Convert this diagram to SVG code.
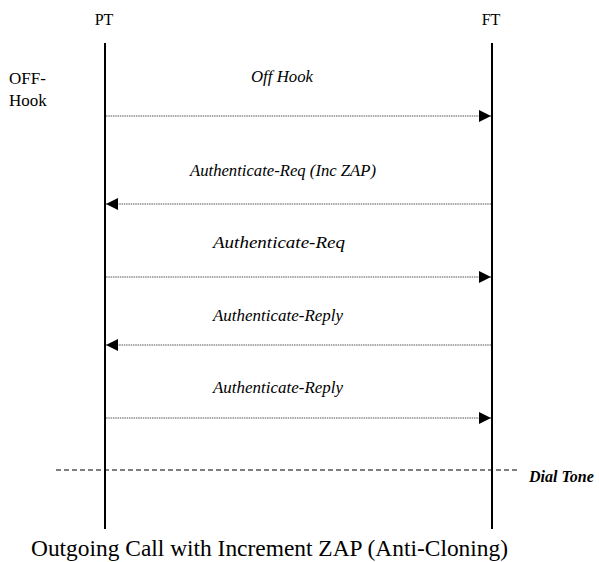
<svg xmlns="http://www.w3.org/2000/svg" width="599" height="562" viewBox="0 0 599 562">
<style>
.lbl{font-size:17px;font-style:italic}
.msg{stroke:#555;stroke-width:1;stroke-dasharray:1.5 0.8;fill:none}
.life{stroke:#000;stroke-width:2}
</style>
<defs>
<marker id="ah" viewBox="0 0 12 12" markerWidth="12" markerHeight="12" refX="12" refY="6" orient="auto" markerUnits="userSpaceOnUse">
<path d="M0,0 L12,6 L0,12 Z" fill="#000"/>
</marker>
</defs>
<rect width="599" height="562" fill="#fff"/>
<g id="PT">
<text x="104" y="25" font-size="16" text-anchor="middle" font-family="Liberation Serif">PT</text>
<line class="life" x1="105" y1="43" x2="105" y2="529"/>
</g>
<g id="FT">
<text x="491" y="25" font-size="16" text-anchor="middle" font-family="Liberation Serif">FT</text>
<line class="life" x1="492" y1="43" x2="492" y2="529"/>
</g>
<g id="offhook-note">
<text x="9" y="84" font-size="17" font-family="Liberation Serif">OFF-</text>
<text x="9" y="106" font-size="17" font-family="Liberation Serif">Hook</text>
</g>
<g id="connectors">
<line class="msg" x1="106" y1="116" x2="491" y2="116" marker-end="url(#ah)"/>
<line class="msg" x1="491" y1="204" x2="106" y2="204" marker-end="url(#ah)"/>
<line class="msg" x1="106" y1="277" x2="491" y2="277" marker-end="url(#ah)"/>
<line class="msg" x1="491" y1="345" x2="106" y2="345" marker-end="url(#ah)"/>
<line class="msg" x1="106" y1="418" x2="491" y2="418" marker-end="url(#ah)"/>
<line x1="56" y1="470" x2="517" y2="470" stroke="#000" stroke-width="1" stroke-dasharray="5 3"/>
</g>
<g id="labels">
<text class="lbl" x="251" y="82" textLength="62" lengthAdjust="spacingAndGlyphs" font-family="Liberation Serif">Off Hook</text>
<text class="lbl" x="190" y="176" textLength="186" lengthAdjust="spacingAndGlyphs" font-family="Liberation Serif">Authenticate-Req (Inc ZAP)</text>
<text class="lbl" x="213" y="248" textLength="132" lengthAdjust="spacingAndGlyphs" font-family="Liberation Serif">Authenticate-Req</text>
<text class="lbl" x="213" y="321" textLength="130" lengthAdjust="spacingAndGlyphs" font-family="Liberation Serif">Authenticate-Reply</text>
<text class="lbl" x="213" y="393" textLength="130" lengthAdjust="spacingAndGlyphs" font-family="Liberation Serif">Authenticate-Reply</text>
<text x="529" y="482" font-size="16" font-style="italic" font-weight="bold" font-family="Liberation Serif">Dial Tone</text>
</g>
<text x="31" y="556" font-size="23" textLength="477" lengthAdjust="spacingAndGlyphs" font-family="Liberation Serif">Outgoing Call with Increment ZAP (Anti-Cloning)</text>
</svg>
